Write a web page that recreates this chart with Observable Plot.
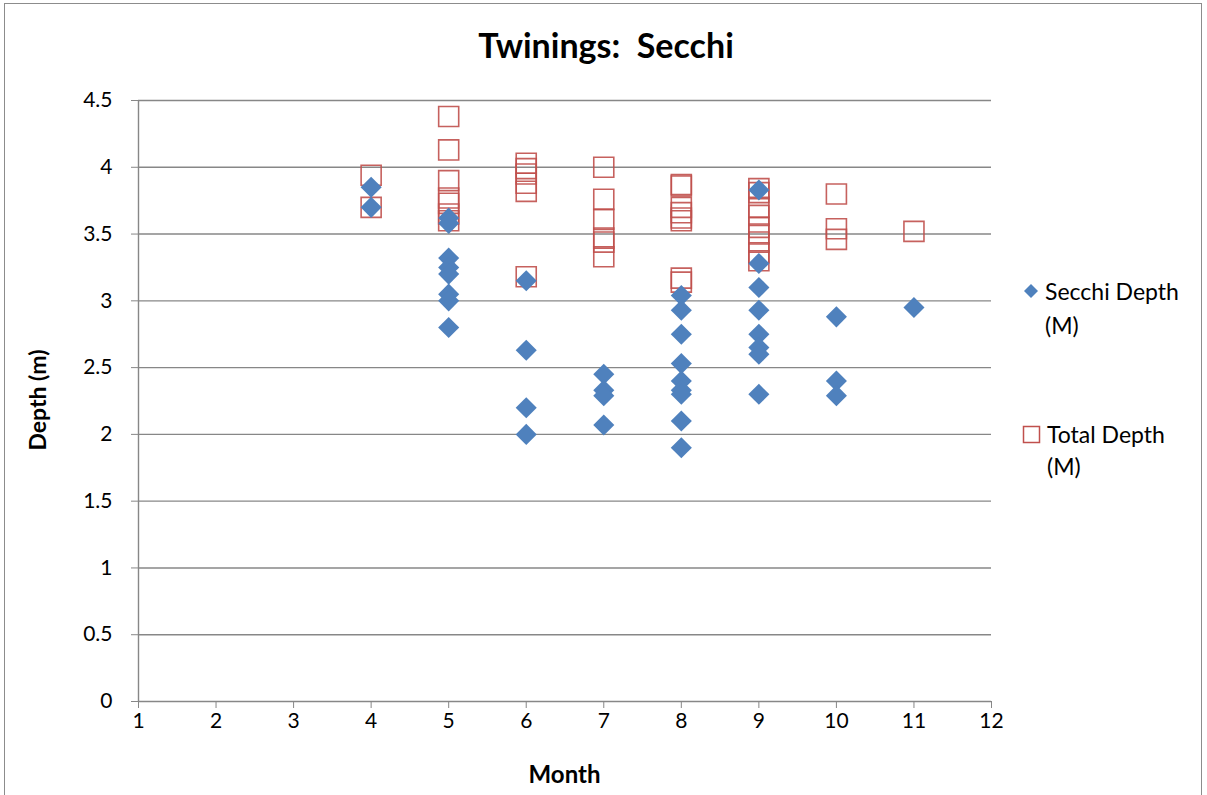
<!DOCTYPE html>
<html>
<head>
<meta charset="utf-8">
<script src="https://cdn.jsdelivr.net/npm/d3@7"></script>
<script src="https://cdn.jsdelivr.net/npm/@observablehq/plot@0.6"></script>
<style>
  html, body { margin: 0; padding: 0; background: #fff; }
  #wrap { position: relative; width: 1207px; height: 795px; font-family: Lato, "Open Sans", sans-serif; color: #000; overflow: hidden; }
  #frame { position: absolute; left: 4px; top: 3px; width: 1198px; height: 800px; border: 1px solid #8c8c8c; box-sizing: border-box; pointer-events: none; }
  .lbl { position: absolute; white-space: nowrap; }
  #title { left: 0; width: 1212px; text-align: center; top: 25px; font-size: 34px; font-weight: bold; line-height: 40px; }
  #xlab { left: 138px; width: 853px; text-align: center; top: 760px; font-size: 24px; font-weight: bold; line-height: 28px; }
  #ylab { left: 37px; top: 400px; font-size: 23px; font-weight: bold; line-height: 28px; transform: translate(-50%, -50%) rotate(-90deg); }
  .leg { position: absolute; font-size: 23px; line-height: 28px; }
</style>
</head>
<body>
<div id="wrap">
  <div id="chart"></div>
  <div id="frame"></div>
  <div class="lbl" id="title">Twinings:&nbsp; Secchi</div>
  <div class="lbl" id="xlab">Month</div>
  <div class="lbl" id="ylab">Depth (m)</div>
  <div id="legend"></div>
</div>
<script>
// ---- Data ----
const monthTicks = [1, 2, 3, 4, 5, 6, 7, 8, 9, 10, 11, 12];
const depthTicks = [0, 0.5, 1, 1.5, 2, 2.5, 3, 3.5, 4, 4.5];

const seriesNames = ["Secchi Depth (M)", "Total Depth (M)"];

const secchiMonths = [4, 4,
  5, 5, 5, 5, 5, 5, 5, 5,
  6, 6, 6, 6,
  7, 7, 7, 7,
  8, 8, 8, 8, 8, 8, 8, 8, 8,
  9, 9, 9, 9, 9, 9, 9, 9,
  10, 10, 10,
  11];
const secchiValues = [3.85, 3.70,
  3.62, 3.58, 3.32, 3.25, 3.20, 3.05, 3.00, 2.80,
  3.15, 2.63, 2.20, 2.00,
  2.45, 2.33, 2.29, 2.07,
  3.04, 2.93, 2.75, 2.53, 2.40, 2.33, 2.30, 2.10, 1.90,
  3.83, 3.28, 3.10, 2.93, 2.75, 2.65, 2.60, 2.30,
  2.88, 2.40, 2.29,
  2.95];

const totalMonths = [4, 4,
  5, 5, 5, 5, 5, 5, 5,
  6, 6, 6, 6, 6, 6,
  7, 7, 7, 7, 7, 7,
  8, 8, 8, 8, 8, 8, 8, 8,
  9, 9, 9, 9, 9, 9, 9, 9, 9,
  10, 10, 10,
  11];
const totalValues = [3.94, 3.70,
  4.38, 4.13, 3.90, 3.77, 3.73, 3.65, 3.60,
  4.03, 3.99, 3.95, 3.88, 3.82, 3.18,
  4.00, 3.76, 3.61, 3.47, 3.44, 3.33,
  3.87, 3.86, 3.70, 3.66, 3.62, 3.60, 3.17, 3.14,
  3.84, 3.81, 3.70, 3.64, 3.55, 3.50, 3.44, 3.36, 3.30,
  3.80, 3.54, 3.46,
  3.52];

const secchi = secchiMonths.map((m, i) => ({month: m, depth: secchiValues[i]}));
const total = totalMonths.map((m, i) => ({month: m, depth: totalValues[i]}));

const BLUE = "#4F81BD";
const RED = "#C0504D";
const GRID = "#878787";

const chart = Plot.plot({
  width: 1207,
  height: 795,
  marginLeft: 138,
  marginRight: 216,
  marginTop: 100,
  marginBottom: 94,
  style: {fontFamily: "Lato, 'Open Sans', sans-serif", fontSize: "21px", color: "#000", background: "transparent", overflow: "visible"},
  x: {domain: [1, 12], label: null},
  y: {domain: [0, 4.5], label: null},
  marks: [
    Plot.gridY(depthTicks.filter(d => d > 0), {stroke: GRID, strokeOpacity: 1, strokeWidth: 1.4}),
    Plot.ruleY([0], {stroke: GRID, strokeWidth: 1.4}),
    Plot.ruleX([1], {stroke: GRID, strokeWidth: 1.4}),
    Plot.axisY({ticks: depthTicks, tickSize: 7, tickPadding: 19, stroke: GRID, label: null, tickFormat: d => String(d)}),
    Plot.axisX({ticks: monthTicks, tickSize: 7, tickPadding: 5, stroke: GRID, label: null, tickFormat: d => String(d)}),
    Plot.dot(total, {x: "month", y: "depth", symbol: "square", r: 11.3, stroke: RED, strokeWidth: 1.6, strokeOpacity: 0.9, fill: "none"}),
    Plot.dot(secchi, {x: "month", y: "depth", symbol: "diamond2", r: 9.5, fill: BLUE, stroke: "none"})
  ]
});
document.getElementById("chart").appendChild(chart);

// ---- Legend ----
const legend = document.getElementById("legend");
const legendItems = [
  {name: seriesNames[0], top: 291, kind: "diamond"},
  {name: seriesNames[1], top: 434, kind: "square"}
];
legendItems.forEach(item => {
  const parts = item.name.split(" (");
  const marker = document.createElementNS("http://www.w3.org/2000/svg", "svg");
  marker.setAttribute("width", 20);
  marker.setAttribute("height", 20);
  marker.style.position = "absolute";
  marker.style.left = "1021px";
  marker.style.top = (item.top - 10) + "px";
  if (item.kind === "diamond") {
    marker.innerHTML = `<path d="M10,3 L17,10 L10,17 L3,10 Z" fill="${BLUE}"/>`;
  } else {
    marker.innerHTML = `<rect x="2.5" y="2.5" width="16" height="16" fill="none" stroke="${RED}" stroke-width="1.5"/>`;
  }
  legend.appendChild(marker);
  const x0 = item.kind === "diamond" ? 1045 : 1047;
  const l1 = document.createElement("div");
  l1.className = "leg";
  l1.style.left = x0 + "px";
  l1.style.top = (item.top - 14) + "px";
  l1.textContent = parts[0];
  legend.appendChild(l1);
  const l2 = document.createElement("div");
  l2.className = "leg";
  l2.style.left = x0 + "px";
  l2.style.top = (item.top - 14 + (item.kind === "diamond" ? 34 : 32)) + "px";
  l2.textContent = "(" + parts[1];
  legend.appendChild(l2);
});
</script>
</body>
</html>
